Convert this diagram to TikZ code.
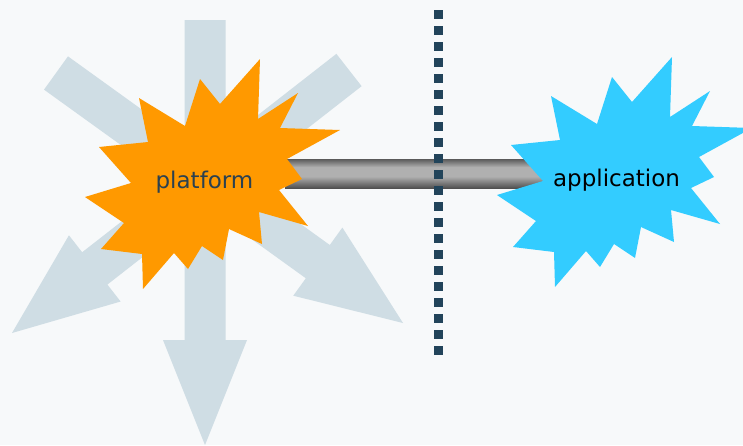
\documentclass[tikz,border=0pt]{standalone}
\usepackage{fontspec}
\setmainfont{DejaVu Sans}
\usetikzlibrary{calc}
\definecolor{bgcol}{HTML}{F7F9FA}
\definecolor{arrowcol}{HTML}{CFDDE4}
\definecolor{burstorange}{HTML}{FF9900}
\definecolor{burstcyan}{HTML}{33CCFF}
\definecolor{dotcol}{HTML}{22445A}
\definecolor{labelcol}{HTML}{2B4150}
\definecolor{barlight}{HTML}{B0B0B0}
\definecolor{bartop}{HTML}{5A5A5A}
\definecolor{barbottom}{HTML}{505050}

% tube-like shading for the link bar: dark rims, light core
% (the path is mapped onto the band from 25bp to 75bp)
\pgfdeclareverticalshading{tubeshading}{100bp}{%
  color(0bp)=(barbottom); color(25bp)=(barbottom);
  color(45bp)=(barlight); color(61bp)=(barlight);
  color(75bp)=(bartop); color(100bp)=(bartop)}

% broad block arrow from #1 (tail) to #2 (tip)
\newcommand\blockarrow[2]{%
  \coordinate (hb) at ($(#2)!105pt!(#1)$);
  \fill[arrowcol]
    ($(#1)!20.5pt!90:(#2)$) -- ($(hb)!20.5pt!-90:(#1)$) --
    ($(hb)!42pt!-90:(#1)$) -- (#2) -- ($(hb)!42pt!90:(#1)$) --
    ($(hb)!20.5pt!90:(#1)$) -- ($(#1)!20.5pt!-90:(#2)$) -- cycle;
}

% fourteen-point burst outline, shifted by #2
\newcommand\burst[2]{%
  \fill[#1, shift={#2}]
    (260,59) -- (258,119) -- (298,93) -- (280,128) -- (340,130) --
    (287,159) -- (302,179) -- (279,190) -- (308,226) -- (259,212) --
    (262,244) -- (229,229) -- (223,260) -- (202,246) -- (188,269) --
    (174,253) -- (143,289) -- (142,254) -- (101,249) -- (124,223) --
    (85,197) -- (131,183) -- (99,147) -- (148,142) -- (139,98) --
    (185,126) -- (200,79) -- (220,104) -- cycle;
}

\begin{document}
\begin{tikzpicture}[x=1pt, y=-1pt,
  label/.style={font=\fontsize{23}{27}\selectfont, inner sep=0pt, anchor=base},
  barshade/.style={shading=tubeshading},
  boundary/.style={dotcol, line width=9pt, dash pattern=on 9pt off 7pt}]
  \useasboundingbox (0,0) rectangle (743,445);
  \fill[bgcol] (0,0) rectangle (743,445);
  \clip (0,0) rectangle (743,445);

  % spreading arrows behind the platform
  \coordinate (vtail) at (205,20);
  \coordinate (vtip) at (205,445);
  \coordinate (ltail) at (56,73);
  \coordinate (ltip) at (403,323);
  \coordinate (rtail) at (349,70);
  \coordinate (rtip) at (12,333);
  \blockarrow{vtail}{vtip}
  \blockarrow{ltail}{ltip}
  \blockarrow{rtail}{rtip}

  % link between the two bursts
  \coordinate (barA) at (285,159);
  \coordinate (barB) at (560,188);
  \shade[barshade] (barA) rectangle (barB);

  % dotted boundary
  \coordinate (dtop) at (438,10);
  \coordinate (dbot) at (438,355);
  \draw[boundary] (dtop) -- (dbot);

  % bursts
  \burst{burstorange}{(0,0)}
  \burst{burstcyan}{(412,-2)}

  \node[label, text=labelcol] (platform) at (204.5,188) {platform};
  \node[label, text=black] (application) at (616.5,186) {application};
\end{tikzpicture}
\end{document}
